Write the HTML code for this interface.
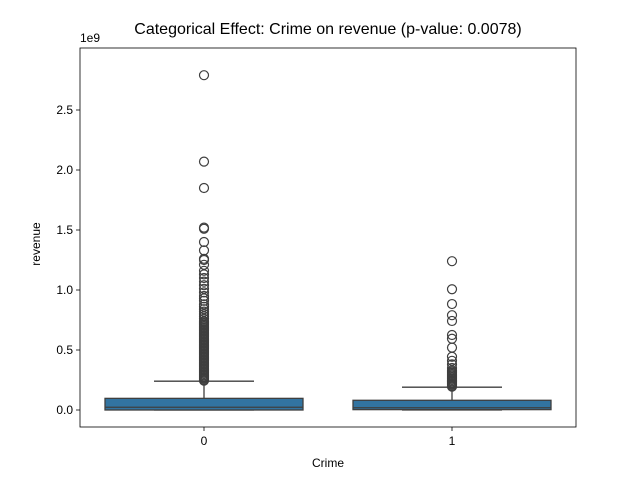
<!DOCTYPE html>
<html><head><meta charset="utf-8"><style>body{margin:0;background:#fff}svg{font-family:"Liberation Sans","DejaVu Sans",sans-serif}</style></head>
<body>
<svg id="chart" width="640" height="480" viewBox="0 0 640 480">
<rect width="640" height="480" fill="#fff"/>
<text x="328" y="34" font-size="16" text-anchor="middle">Categorical Effect: Crime on revenue (p-value: 0.0078)</text>
<g id="plot"></g>
</svg>
<script>
const categories = ["0", "1"];
const q1 = [0.0, 0.003];
const medians = [0.023, 0.019];
const q3 = [0.097, 0.081];
const whiskLo = [0.0, 0.0];
const whiskHi = [0.24, 0.19];
const outliers0 = [2.79,2.07,1.85,1.52,1.51,1.40,1.33,1.26,1.25,1.21,1.16,1.13,1.10,1.07,1.04,1.01,0.98,0.95,0.93,0.91,0.88,0.86,0.84,0.82,0.80,0.78,0.76,0.74,0.73,0.72,0.71,0.70,0.69,0.68,0.67,0.66,0.65,0.64,0.63,0.62,0.61,0.60,0.59,0.58,0.57,0.56,0.55,0.54,0.53,0.52,0.51,0.50,0.49,0.48,0.47,0.46,0.45,0.44,0.43,0.42,0.41,0.40,0.39,0.38,0.37,0.36,0.35,0.34,0.33,0.32,0.31,0.30,0.29,0.28,0.27,0.26,0.25,0.245];
const outliers1 = [1.24,1.006,0.883,0.79,0.742,0.625,0.594,0.52,0.444,0.41,0.38,0.35,0.33,0.32,0.31,0.30,0.29,0.28,0.27,0.26,0.25,0.24,0.23,0.22,0.21,0.20,0.195];
const yTicks = [0, 0.5, 1.0, 1.5, 2.0, 2.5];
const yTickLabels = ["0.0", "0.5", "1.0", "1.5", "2.0", "2.5"];

const NS = "http://www.w3.org/2000/svg";
const L = 80, R = 576, T = 48, B = 427;
const y = v => 410 - v * 120;
const x = i => 204 + i * 248;
const g = document.getElementById('plot');
function mk(tag, attrs, parent) {
  const e = document.createElementNS(NS, tag);
  for (const k in attrs) e.setAttribute(k, attrs[k]);
  (parent || g).appendChild(e);
  return e;
}
const halfW = 99, capW = 50;
const outs = [outliers0, outliers1];
categories.forEach((c, i) => {
  const cx = x(i);
  const grp = mk('g', {});
  
  
  const wl = mk('line', {x1: cx, x2: cx, y1: y(q3[i]), y2: y(whiskHi[i]), stroke: '#3f3f3f', 'stroke-width': 1.3}, grp);
  
  
  const cap = mk('line', {x1: cx - capW, x2: cx + capW, y1: y(whiskHi[i]), y2: y(whiskHi[i]), stroke: '#3f3f3f', 'stroke-width': 1.3}, grp);
  
  
  const capl = mk('line', {x1: cx - capW, x2: cx + capW, y1: y(whiskLo[i]), y2: y(whiskLo[i]), stroke: '#3f3f3f', 'stroke-width': 1.3}, grp);
  
  
  const box = mk('rect', {x: cx - halfW, width: 2 * halfW, y: y(q3[i]), height: y(q1[i]) - y(q3[i]), fill: '#3274a1', stroke: '#3f3f3f', 'stroke-width': 1.3}, grp);
  
  
  const md = mk('line', {x1: cx - halfW, x2: cx + halfW, y1: y(medians[i]), y2: y(medians[i]), stroke: '#3f3f3f', 'stroke-width': 1.3}, grp);
  
  
  outs[i].forEach(v => {
    const p = mk('circle', {cx: cx, cy: y(v), r: 4.5, fill: 'none', stroke: '#3f3f3f', 'stroke-width': 1.2}, grp);
    
    
  });
  const t = mk('line', {x1: cx, x2: cx, y1: B, y2: B + 4, stroke: '#000', 'stroke-width': 0.8});
  
  
  const tl = mk('text', {x: cx, y: B + 18, 'font-size': 12, 'text-anchor': 'middle'});
  tl.textContent = c;
  
  
});
yTicks.forEach((v, k) => {
  const t = mk('line', {x1: L - 4, x2: L, y1: y(v), y2: y(v), stroke: '#000', 'stroke-width': 0.8});
  
  
  const tl = mk('text', {x: L - 7, y: y(v) + 4, 'font-size': 12, 'text-anchor': 'end'});
  tl.textContent = yTickLabels[k];
  
  
});
const frame = mk('rect', {x: L, y: T, width: R - L, height: B - T, fill: 'none', stroke: '#000', 'stroke-width': 0.8});


const off = mk('text', {x: L, y: T - 6, 'font-size': 12});
off.textContent = '1e9';


const xt = mk('text', {x: 328, y: 467, 'font-size': 12, 'text-anchor': 'middle'});
xt.textContent = 'Crime';


const yt = mk('text', {x: 40, y: 244, 'font-size': 12, 'text-anchor': 'middle', transform: 'rotate(-90 40 244)'});
yt.textContent = 'revenue';


</script>
</body></html>
